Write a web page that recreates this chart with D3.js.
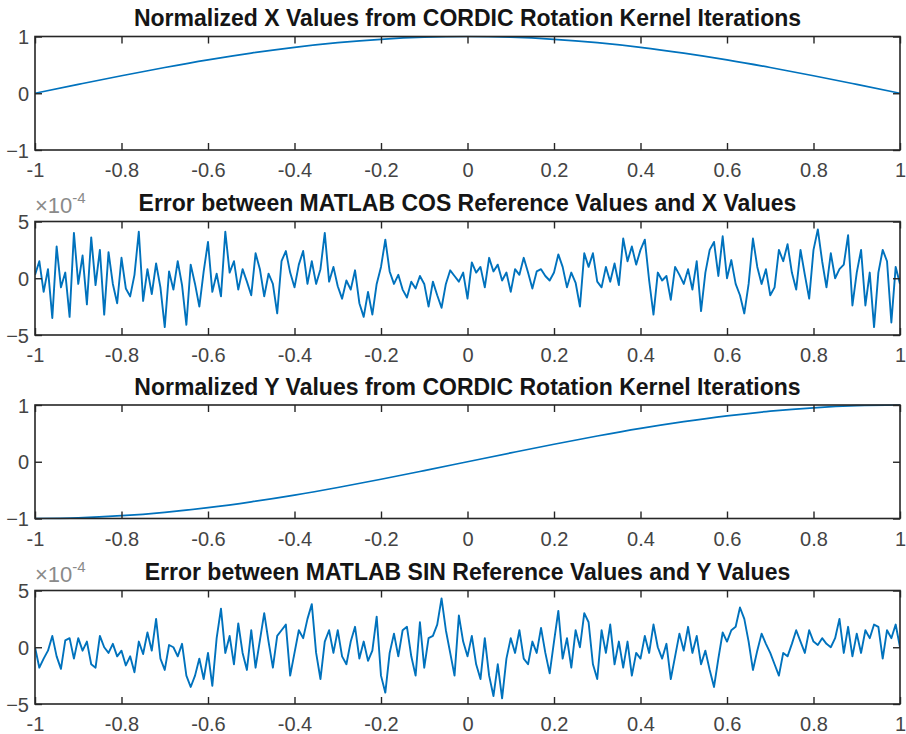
<!DOCTYPE html>
<html><head><meta charset="utf-8">
<script src="https://cdn.jsdelivr.net/npm/d3@7"></script>
<style>
html,body{margin:0;padding:0;background:#fff;}
text{font-family:"Liberation Sans",Arial,Helvetica,sans-serif;}
</style></head>
<body>
<svg id="chart" width="906" height="734"></svg>
<script>
// ---------- data ----------
const titles = [
  "Normalized X Values from CORDIC Rotation Kernel Iterations",
  "Error between MATLAB COS Reference Values and X Values",
  "Normalized Y Values from CORDIC Rotation Kernel Iterations",
  "Error between MATLAB SIN Reference Values and Y Values"
];
const xTicks = [-1,-0.8,-0.6,-0.4,-0.2,0,0.2,0.4,0.6,0.8,1];
const xTickLabels = ["-1","-0.8","-0.6","-0.4","-0.2","0","0.2","0.4","0.6","0.8","1"];
const yTicksXY = [-1,0,1];
const yTicksErr = [-5,0,5];
const errExponent = "-4";

// curve samples at x = -1, -0.9, ..., 1
const curveX = [-1,-0.9,-0.8,-0.7,-0.6,-0.5,-0.4,-0.3,-0.2,-0.1,0,0.1,0.2,0.3,0.4,0.5,0.6,0.7,0.8,0.9,1];
const xValues = [0,0.156,0.309,0.454,0.588,0.707,0.809,0.891,0.951,0.988,1,0.988,0.951,0.891,0.809,0.707,0.588,0.454,0.309,0.156,0];
const yValues = [-1,-0.988,-0.951,-0.891,-0.809,-0.707,-0.588,-0.454,-0.309,-0.156,0,0.156,0.309,0.454,0.588,0.707,0.809,0.891,0.951,0.988,1];

// error samples (units of 1e-4), 201 samples from x=-1 to x=1
const cosErr = [
 0.3,1.5,-1.2,0.8,-3.5,2.8,-0.8,0.5,-3.4,4.0,
 -0.5,2.0,-2.3,3.6,-0.6,2.5,-3.2,2.3,-0.5,-2.2,
 1.8,-0.9,-1.6,0.3,4.1,-2.0,0.8,-1.4,1.3,-0.8,
 -4.3,0.6,-1.0,1.5,-0.6,-4.1,1.2,-0.5,-2.5,0.6,
 3.2,-1.2,0.4,-1.6,4.1,0.5,1.5,-1.0,0.8,-0.3,
 -1.5,2.2,0.8,-1.6,0.4,-0.5,-3.1,1.5,2.4,0.5,
 -0.8,1.2,2.4,-0.5,1.5,-0.5,0.8,4.0,-0.3,1.0,
 -0.7,-1.8,-0.2,-1.0,0.7,-2.2,-3.4,-1.2,-3.2,-0.5,
 1.0,3.4,0.6,-0.5,0.3,-1.0,-1.7,-0.3,-0.9,0.2,
 -0.5,-2.5,-0.3,-1.5,-2.6,-0.5,0.7,0.2,-0.3,0.5,
 -1.8,1.4,0.5,1.0,-0.8,1.8,0.6,1.2,-0.2,0.5,
 -1.2,0.8,0.3,1.8,0.5,-0.9,0.6,0.8,0.2,-0.2,
 0.5,2.1,1.0,-0.8,0.5,-0.4,-2.5,2.2,1.0,2.2,
 -0.3,-0.8,1.0,-0.3,1.3,-0.6,3.5,1.5,2.8,1.2,
 2.5,3.4,-0.2,-3.2,0.5,-0.2,0.2,-1.9,1.0,0.3,
 -0.5,0.8,-1.0,1.5,-2.9,0.5,2.5,3.2,0.2,3.7,
 0.0,1.6,-0.5,-1.5,-3.1,-0.5,3.5,1.0,-0.5,0.8,
 -1.5,-0.8,2.5,1.5,3.0,0.5,-1.0,2.5,0.3,-1.8,
 2.5,4.3,1.5,-0.8,2.2,0.0,0.8,1.2,3.8,-2.4,
 0.5,2.5,-2.4,0.5,-4.3,0.5,2.5,1.5,-3.9,1.0,
 -0.5
];
const sinErr = [
 0.0,-1.8,-1.0,-0.3,1.0,-0.8,-1.9,0.6,0.8,-1.0,
 0.8,-0.3,0.5,-1.5,-1.8,1.0,0.0,-0.5,0.3,-0.8,
 -0.3,-1.6,-0.8,-2.2,0.5,-0.6,1.3,-0.3,2.5,-1.0,
 -2.0,0.2,0.0,-0.8,0.3,-2.5,-3.5,-2.5,-1.0,-2.8,
 -0.5,-3.4,0.8,3.4,-0.5,1.0,-1.5,2.1,-0.5,-2.0,
 1.5,-1.8,0.6,3.0,0.5,-1.8,1.0,1.5,2.0,-2.5,
 -0.5,1.5,0.8,2.5,3.8,-0.5,-2.8,0.5,1.5,-0.5,
 1.5,-0.8,-1.5,0.5,1.8,-1.0,0.5,-1.2,-0.3,2.7,
 -2.5,-4.0,-0.5,1.2,-0.8,1.5,1.8,-0.8,-2.5,2.2,
 -1.8,0.8,1.0,2.0,4.3,1.5,-0.5,-2.5,2.8,0.5,
 -0.8,1.0,-1.5,-2.8,0.8,-2.5,-4.3,-1.5,-4.5,-1.0,
 0.8,-0.5,1.5,-1.0,-1.5,0.5,-0.5,1.7,-0.5,-2.3,
 0.5,3.2,-1.0,0.8,-1.8,1.5,0.0,3.0,2.2,-1.5,
 -2.8,1.5,-0.5,2.0,-1.5,0.5,-1.8,0.5,-2.5,-0.5,
 -1.0,1.0,-0.5,2.0,0.0,-1.0,0.3,-2.8,-0.8,1.2,
 -0.3,1.8,-0.5,1.0,-1.5,-0.3,-2.0,-3.5,-1.0,1.3,
 0.5,1.5,1.8,3.5,2.5,0.5,-2.0,-0.3,1.2,0.3,
 -0.5,-1.5,-2.5,-0.5,-0.8,0.3,1.5,0.5,-0.5,1.5,
 0.5,0.2,0.8,0.3,0.0,0.8,2.5,-0.5,1.8,-0.8,
 1.2,-0.5,1.5,0.8,2.0,1.8,-1.0,1.5,0.8,2.0,
 0.0
];
const errX = d3.range(cosErr.length).map(i => -1 + 2*i/(cosErr.length-1));

// ---------- layout ----------
const W = 906, H = 734;
const left = 35, right = 900;
const tops = [36.5, 221.5, 405, 590.5];
const ph = 113.5;
const axisColor = "#262626";
const lineColor = "#0072BD";
const svg = d3.select("#chart");
svg.append("rect").attr("width",W).attr("height",H).attr("fill","#fff");

const x = d3.scaleLinear().domain([-1,1]).range([left,right]);

const panels = [
  {xs: curveX, ys: xValues, domain:[-1,1], ticks:yTicksXY, curve:d3.curveMonotoneX, exp:false},
  {xs: errX, ys: cosErr, domain:[-5,5], ticks:yTicksErr, curve:d3.curveLinear, exp:true},
  {xs: curveX, ys: yValues, domain:[-1,1], ticks:yTicksXY, curve:d3.curveMonotoneX, exp:false},
  {xs: errX, ys: sinErr, domain:[-5,5], ticks:yTicksErr, curve:d3.curveLinear, exp:true}
];

panels.forEach((p,k) => {
  const top = tops[k], bottom = top + ph;
  const y = d3.scaleLinear().domain(p.domain).range([bottom, top]);
  const g = svg.append("g");

  const cid = "clip"+k;
  svg.append("clipPath").attr("id",cid).append("rect")
     .attr("x",left).attr("y",top-1).attr("width",right-left).attr("height",ph+2);
  const line = d3.line().x((d,i)=>x(p.xs[i])).y(d=>y(d)).curve(p.curve);
  g.append("path").datum(p.ys).attr("d",line).attr("fill","none")
   .attr("stroke",lineColor).attr("stroke-width",p.exp ? 1.9 : 1.7).attr("stroke-linejoin","round")
   .attr("clip-path","url(#"+cid+")");

  const tickLen = 7;
  const ax = g.append("g").attr("transform",`translate(0,${bottom})`)
    .call(d3.axisBottom(x).tickValues(xTicks).tickFormat((d,i)=>xTickLabels[i])
          .tickSizeInner(-tickLen).tickSizeOuter(0).tickPadding(13));
  const axt = g.append("g").attr("transform",`translate(0,${top})`)
    .call(d3.axisTop(x).tickValues(xTicks).tickFormat("").tickSizeInner(-tickLen).tickSizeOuter(0));
  const ayl = g.append("g").attr("transform",`translate(${left},0)`)
    .call(d3.axisLeft(y).tickValues(p.ticks).tickFormat(d3.format("d"))
          .tickSizeInner(-tickLen).tickSizeOuter(0).tickPadding(6));
  const ayr = g.append("g").attr("transform",`translate(${right},0)`)
    .call(d3.axisRight(y).tickValues(p.ticks).tickFormat("").tickSizeInner(-tickLen).tickSizeOuter(0));

  [ax,axt,ayl,ayr].forEach(a => {
    a.select(".domain").remove();
    a.selectAll(".tick line").attr("stroke",axisColor).attr("stroke-width",1.4);
    a.selectAll(".tick text").attr("fill","#444").style("font-size","20px")
      .style("font-family","'Liberation Sans',Arial,sans-serif");
  });
  ayl.selectAll(".tick text").attr("dy","0.36em");

  g.append("rect").attr("x",left).attr("y",top).attr("width",right-left).attr("height",ph)
   .attr("fill","none").attr("stroke",axisColor).attr("stroke-width",1.6);

  g.append("text").attr("x",(left+right)/2).attr("y",top-10.5)
   .attr("text-anchor","middle").attr("fill","#151515")
   .style("font-size","23px").style("font-weight","bold")
   .text(titles[k]);

  if (p.exp) {
    const t = g.append("text").attr("x",left).attr("y",top-8.5).attr("fill","#8a8a8a")
      .style("font-size","22px");
    t.append("tspan").text("\u00d710");
    t.append("tspan").attr("dy",-10).style("font-size","15px").text(errExponent);
  }
});
</script>
</body></html>
